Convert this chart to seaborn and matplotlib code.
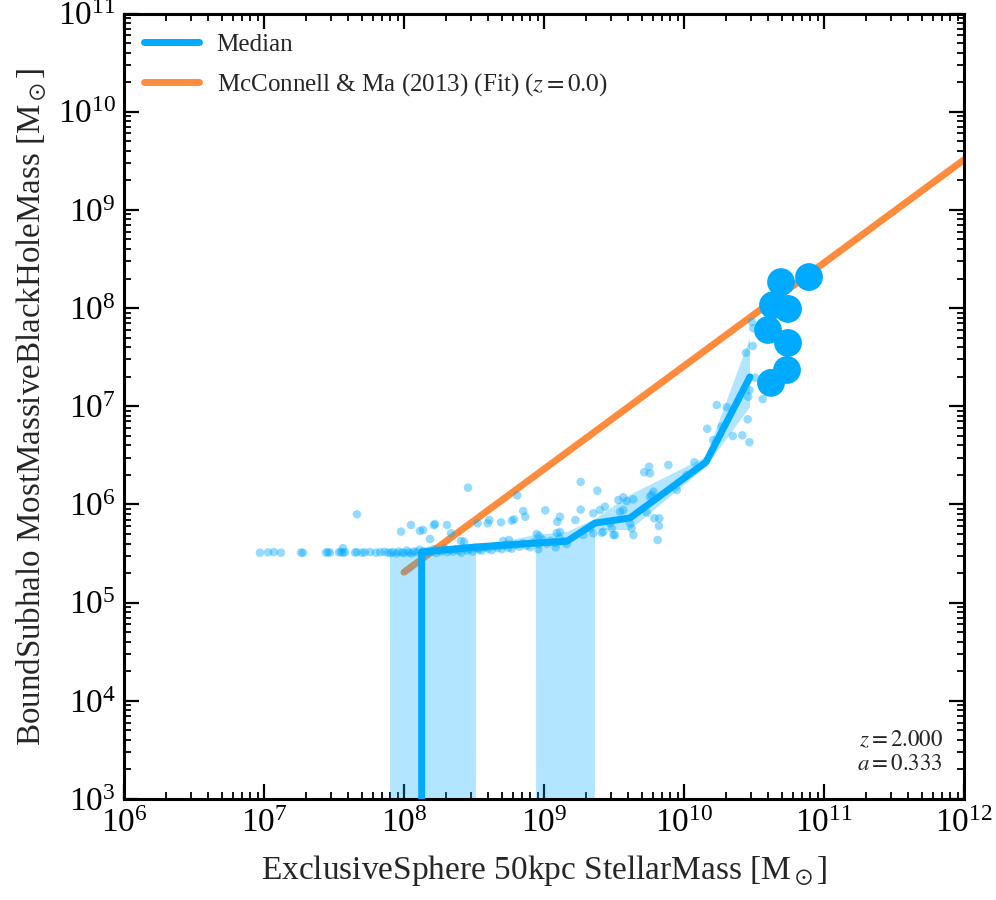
import numpy as np
import pandas as pd
import matplotlib
matplotlib.use("Agg")
import matplotlib.pyplot as plt
import seaborn as sns

# ---------------- data (log10 of masses for the individual galaxies) ----------------
baseline_log_mstar = [6.971, 7.029, 7.071, 7.121, 7.264, 7.279, 7.443, 7.457, 7.471, 7.536, 7.550,
                      7.564, 7.579, 7.650, 7.664, 7.700, 7.720, 7.757, 7.800, 7.830, 7.860, 7.885,
                      7.905, 7.920, 7.945, 7.960, 7.985, 8.000, 8.020, 8.035, 8.055, 8.070,
                      8.090, 8.110, 8.125, 8.140, 8.160, 8.180, 8.195, 8.215, 8.230, 8.250,
                      8.270, 8.290, 8.310, 8.330, 8.350, 8.370, 8.390, 8.410, 8.430, 8.450,
                      8.470, 8.490, 8.510, 8.535, 8.555, 8.580, 8.600, 8.625, 8.650, 8.670,
                      8.700, 8.720, 8.745, 8.770, 8.800, 8.825, 8.850, 8.875, 8.900, 8.930,
                      8.960, 8.990, 9.020, 9.050, 9.080, 9.110, 9.140]
baseline_log_mbh = [5.508, 5.512, 5.515, 5.509, 5.511, 5.507, 5.510, 5.514, 5.508, 5.512, 5.516,
                    5.509, 5.513, 5.510, 5.514, 5.508, 5.512, 5.515, 5.509, 5.513, 5.516, 5.510,
                    5.505, 5.515, 5.500, 5.520, 5.510, 5.505, 5.530, 5.510, 5.500, 5.520,
                    5.515, 5.540, 5.505, 5.525, 5.510, 5.530, 5.520, 5.545, 5.505, 5.530,
                    5.520, 5.550, 5.515, 5.535, 5.520, 5.545, 5.530, 5.510, 5.555, 5.530,
                    5.545, 5.520, 5.560, 5.540, 5.530, 5.565, 5.550, 5.535, 5.575, 5.555,
                    5.545, 5.585, 5.560, 5.550, 5.590, 5.570, 5.605, 5.580, 5.565, 5.620,
                    5.595, 5.640, 5.600, 5.630, 5.610, 5.655, 5.625]

outlier_log_mstar = [7.664, 7.564, 7.979, 8.050, 8.114, 8.136, 8.221, 8.307, 8.186, 8.407,
                     8.429, 8.457, 8.214, 8.336, 8.529, 8.526, 8.598, 8.609, 8.693, 8.707,
                     8.750, 8.771, 8.786, 8.809, 8.852, 8.866, 8.948, 8.966, 8.959, 9.009,
                     9.084, 9.091, 9.095, 9.114, 9.114, 9.162, 9.224, 9.262, 9.262, 9.281,
                     9.329, 9.352, 9.352, 9.381, 9.400, 9.412, 9.436, 9.484, 9.495, 9.424,
                     9.471, 9.507, 9.531, 9.543, 9.566, 9.566, 9.591, 9.614, 9.626, 9.638,
                     9.638, 9.716, 9.734, 9.750, 9.757, 9.757, 9.769, 9.781, 9.788, 9.812,
                     9.821, 9.824, 9.888, 9.948, 10.019, 10.074, 10.166, 10.209, 10.234, 10.269,
                     10.305, 10.348, 10.416, 10.455, 10.467, 10.459, 10.467, 10.507, 10.562, 10.443,
                     10.491, 10.495, 10.484]
outlier_log_mbh = [5.900, 5.554, 5.723, 5.791, 5.730, 5.740, 5.801, 5.791, 5.648, 5.628,
                   5.621, 6.171, 5.788, 5.706, 5.554, 5.808, 5.808, 5.842, 5.818, 5.628,
                   5.638, 5.835, 5.849, 6.093, 5.933, 5.875, 5.699, 5.679, 5.544, 5.940,
                   5.564, 5.709, 5.824, 5.719, 5.875, 5.597, 5.842, 5.947, 6.229, 5.689,
                   5.757, 5.706, 5.910, 6.140, 5.943, 5.712, 5.977, 5.757, 5.689, 5.722,
                   5.808, 5.689, 6.045, 5.926, 6.073, 5.943, 6.035, 5.808, 5.757, 5.689,
                   6.052, 6.328, 5.916, 6.385, 6.317, 6.079, 6.096, 6.130, 5.859, 5.638,
                   5.781, 5.859, 6.402, 6.147, 6.300, 6.429, 6.771, 6.656, 7.013, 6.792,
                   6.990, 6.697, 6.704, 6.867, 6.633, 7.097, 7.166, 7.291, 7.074, 7.545,
                   7.614, 7.794, 7.861]

# large (highlighted) galaxies
big_mstar = [4.93e10, 7.81e10, 4.32e10, 5.53e10, 3.98e10, 5.53e10, 5.44e10, 4.18e10]
big_mbh = [1.84e8, 2.07e8, 1.07e8, 9.8e7, 5.98e7, 4.41e7, 2.34e7, 1.73e7]

# binned median (0 = empty black hole mass in that bin)
median_mstar = [1.30e8, 1.337e8, 3.27e8, 8.77e8, 1.459e9, 2.312e9, 4.11e9, 1.435e10, 2.958e10]
median_mbh = [0.0, 3.28e5, 3.69e5, 4.05e5, 4.22e5, 6.46e5, 7.28e5, 2.70e6, 1.99e7]

# 16-84 percentile band
band_mstar = [7.94e7, 1.337e8, 3.27e8, 8.77e8, 1.459e9, 2.312e9, 4.11e9, 1.435e10, 2.958e10]
band_lo = [3.20e5, 0.0, 3.30e5, 3.72e5, 0.0, 5.50e5, 5.50e5, 2.40e6, 9.77e6]
band_hi = [3.24e5, 3.27e5, 3.70e5, 4.90e5, 5.25e5, 7.08e5, 1.25e6, 3.05e6, 4.95e7]

# McConnell & Ma (2013) fit, end points
fit_mstar = [1e8, 1e12]
fit_mbh = [2.04e5, 3.24e9]

BLUE = "#00AAFF"
ORANGE = "#FF8C3C"

# ---------------- style ----------------
sns.set_theme(style="ticks")
plt.rcParams["font.family"] = ["Liberation Serif", "DejaVu Serif"]
plt.rcParams["mathtext.fontset"] = "stix"
plt.rcParams["axes.linewidth"] = 2.2
plt.rcParams["axes.edgecolor"] = "black"

fig = plt.figure(figsize=(9.96, 9.0), dpi=100)
ax = fig.add_axes([0.1245, 0.1122, 0.8434, 0.8728])
ax.set_xscale("log")
ax.set_yscale("log")

# fit line (below the band)
sns.lineplot(x=fit_mstar, y=fit_mbh, color=ORANGE, lw=5, ax=ax, zorder=1,
             label=r"McConnell & Ma (2013) (Fit) ($z=0.0$)", legend=False)
fit_handle = ax.lines[-1]

ax.fill_between(band_mstar, band_lo, band_hi, color=BLUE, alpha=0.3, lw=0, zorder=2)

points = pd.DataFrame({
    "mstar": 10 ** np.array(baseline_log_mstar + outlier_log_mstar),
    "mbh": 10 ** np.array(baseline_log_mbh + outlier_log_mbh),
})
sns.scatterplot(data=points, x="mstar", y="mbh", color=BLUE, alpha=0.42, s=38,
                edgecolor="none", ax=ax, zorder=3, legend=False)

med_handle, = ax.plot(median_mstar, median_mbh, color=BLUE, lw=5, zorder=4, label="Median")

sns.scatterplot(x=big_mstar, y=big_mbh, color=BLUE, s=400, edgecolor="none",
                ax=ax, zorder=5, legend=False)

ax.set_xlim(1e6, 1e12)
ax.set_ylim(1e3, 1e11)

ax.tick_params(which="both", direction="in", top=True, right=True, colors="black")
ax.tick_params(which="major", length=11, width=1.6, labelsize=24)
ax.tick_params(axis="x", which="major", pad=7)
ax.tick_params(axis="y", which="major", pad=6)
ax.tick_params(which="minor", length=5, width=1.3)

ax.set_xlabel(r"ExclusiveSphere 50kpc StellarMass [M$_\odot$]", fontsize=24, labelpad=10)
ax.set_ylabel(r"BoundSubhalo MostMassiveBlackHoleMass [M$_\odot$]", fontsize=23.8, labelpad=6)

leg = ax.legend(handles=[med_handle, fit_handle],
                labels=["Median", r"McConnell & Ma (2013) (Fit) ($z=0.0$)"],
                loc="upper left", frameon=False, fontsize=18, handlelength=2.2,
                handletextpad=0.7, borderaxespad=0.4, labelspacing=0.6)

ax.text(0.975, 0.03, "$z=2.000$\n$a=0.333$", transform=ax.transAxes,
        ha="right", va="bottom", fontsize=16.5, linespacing=1.2)

fig.savefig("out.png", dpi=100)
